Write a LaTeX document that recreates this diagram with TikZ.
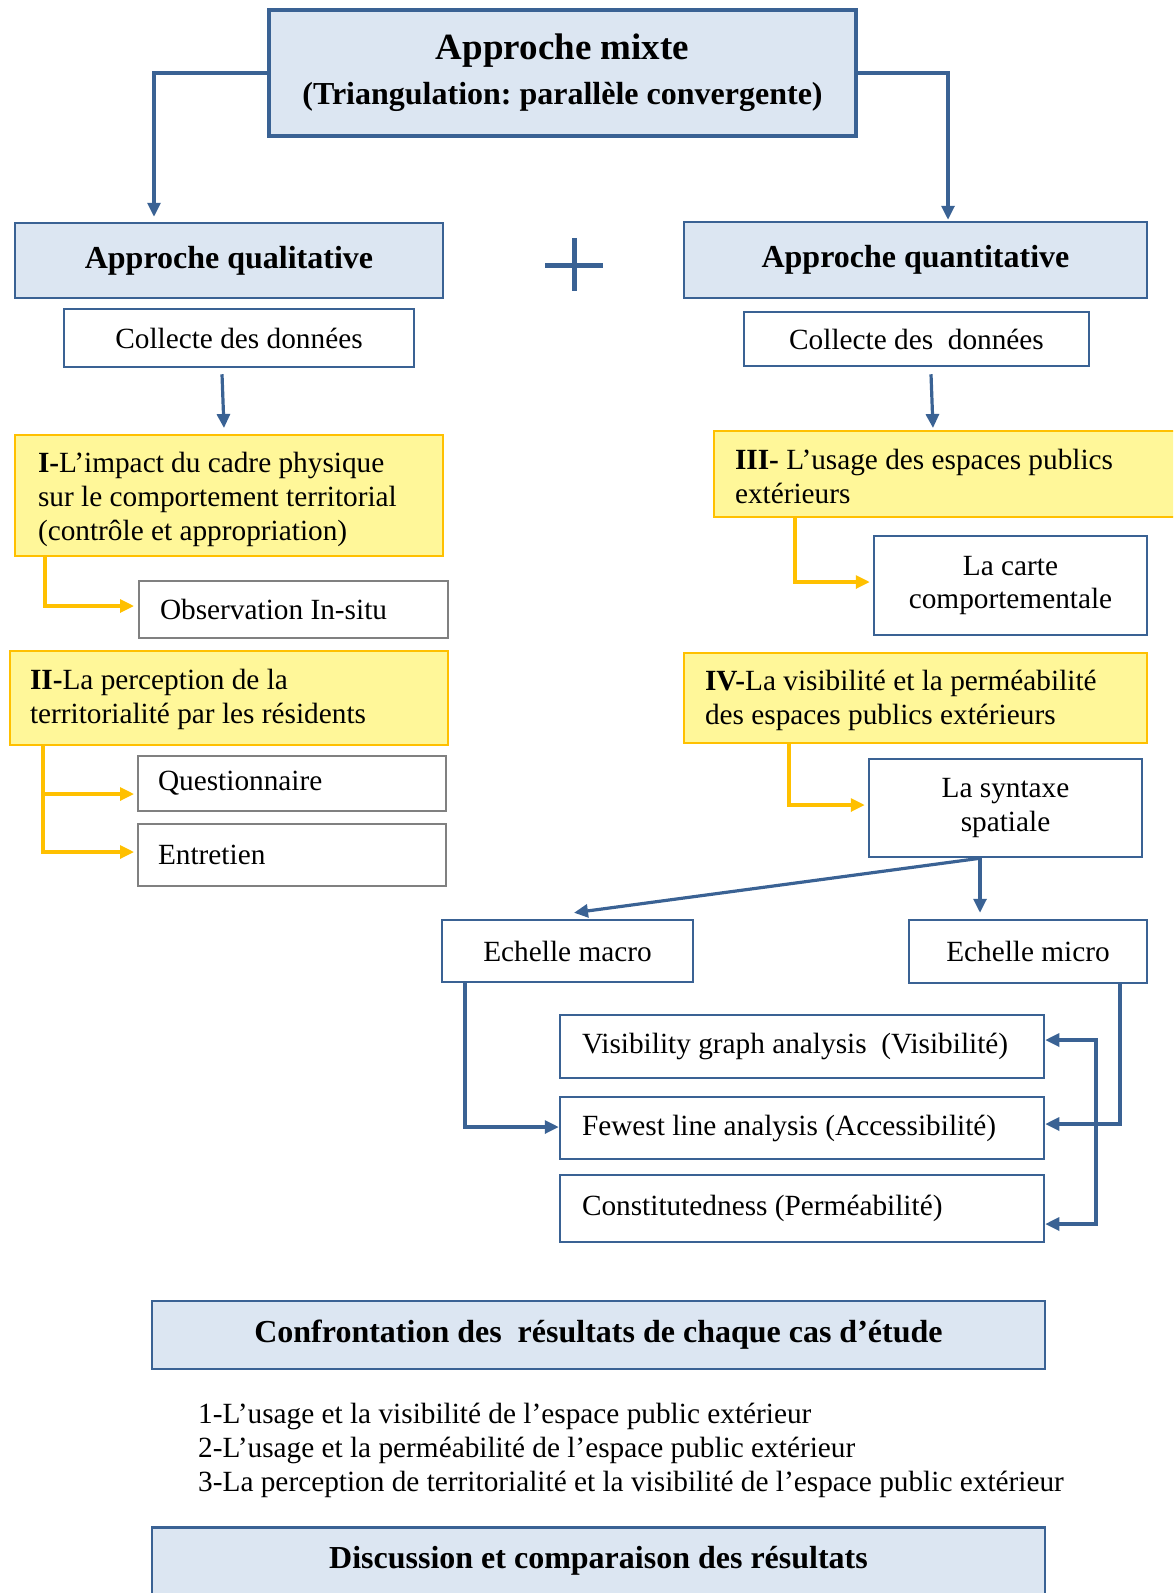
\documentclass[tikz,border=0pt]{standalone}
\usepackage{fontspec}
\setmainfont{Liberation Serif}
\usetikzlibrary{arrows.meta,calc}
\definecolor{bblue}{RGB}{58,98,148}
\definecolor{lblue}{RGB}{220,230,242}
\definecolor{yfill}{RGB}{255,247,153}
\definecolor{ygold}{RGB}{255,192,0}
\definecolor{gbord}{RGB}{128,128,128}
\begin{document}
\frenchspacing
\begin{tikzpicture}[x=1pt,y=-1pt,
  body/.style={font=\fontsize{29.3}{33.8}\selectfont},
  head/.style={font=\fontsize{32}{38}\selectfont\bfseries},
  bluefill/.style={draw=bblue,fill=lblue,line width=2.5pt},
  bluebox/.style={draw=bblue,fill=white,line width=2.5pt},
  graybox/.style={draw=gbord,fill=white,line width=2pt},
  yelbox/.style={draw=ygold,fill=yfill,line width=2pt},
  tipa/.tip={Triangle[length=14pt,width=13pt]},
  barrow/.style={draw=bblue,line width=3.2pt,-tipa},
  yarrow/.style={draw=ygold,line width=3.2pt,-tipa},
]
\path[use as bounding box] (0,0) rectangle (1173,1593);
\clip (0,0) rectangle (1173,1593);

% top
\node[bluefill,line width=4pt,minimum width=587pt,minimum height=126pt,align=center,inner sep=0pt,
      font=\fontsize{32}{45}\selectfont\bfseries] (top) at (562.5,73)
  {{\fontsize{37}{45}\selectfont Approche mixte}\\(Triangulation: parallèle convergente)};

\node[bluefill,head,minimum width=428pt,minimum height=75pt] (qual) at (229,260.5) {Approche qualitative};
\node[bluefill,head,minimum width=463pt,minimum height=76pt] (quant) at (915.5,260) {Approche quantitative};

\draw[bblue,line width=5pt] (545,265) -- (603,265) (574,238) -- (574,291);

\node[bluebox,body,minimum width=350pt,minimum height=58pt] (coll1) at (239,338) {Collecte des données};
\node[bluebox,body,minimum width=345pt,minimum height=54pt] (coll2) at (916.5,339) {Collecte des\ \ données};

% left column
\node[yelbox,body,minimum height=121pt,text width=382pt,inner xsep=23pt,align=flush left] (I) at (229,495.5)
  {\rule{0pt}{28pt}\textbf{I-}L’impact du cadre physique\\sur le comportement territorial\\(contrôle et appropriation)};
\node[graybox,body,minimum height=57pt,text width=267pt,inner xsep=21pt,align=flush left] (obs) at (293.5,609.5)
  {\mbox{Observation In-situ}};
\node[yelbox,body,minimum height=94pt,text width=398pt,inner xsep=20pt,align=flush left] (II) at (229,698)
  {\rule{0pt}{24pt}\textbf{II-}La perception de la\\territorialité par les résidents};
\node[graybox,body,minimum height=55pt,text width=268pt,inner xsep=20pt,align=flush left] (quest) at (292,783.5)
  {\mbox{Questionnaire}};
\node[graybox,body,minimum height=62pt,text width=268pt,inner xsep=20pt,align=flush left] (entr) at (292,855)
  {\mbox{Entretien}};

% right column
\node[yelbox,body,minimum height=86pt,text width=424pt,inner xsep=21pt,align=flush left] (III) at (947,474)
  {\rule{0pt}{25pt}\textbf{III-} L’usage des espaces publics\\extérieurs};
\node[bluebox,body,minimum width=273pt,minimum height=99pt,align=center] (carte) at (1010.5,585.5)
  {La carte\\comportementale};
\node[yelbox,body,minimum height=90pt,text width=421pt,inner xsep=21pt,align=flush left] (IV) at (915.5,698)
  {\rule{0pt}{26pt}\textbf{IV-}La visibilité et la perméabilité\\des espaces publics extérieurs};
\node[bluebox,body,minimum width=273pt,minimum height=98pt,align=center] (syn) at (1005.5,808)
  {La syntaxe\\spatiale};

\node[bluebox,body,minimum width=251pt,minimum height=62pt] (macro) at (567.5,951) {Echelle macro};
\node[bluebox,body,minimum width=238pt,minimum height=63pt] (micro) at (1028,951.5) {Echelle micro};

\node[bluebox,body,minimum height=63pt,text width=440pt,inner xsep=22pt,align=flush left] (vis) at (802,1046.5)
  {\mbox{Visibility graph analysis\ \ (Visibilité)}};
\node[bluebox,body,minimum height=62pt,text width=440pt,inner xsep=22pt,align=flush left] (few) at (802,1128)
  {\mbox{Fewest line analysis (Accessibilité)}};
\node[bluebox,body,minimum height=67pt,text width=440pt,inner xsep=22pt,align=flush left] (cons) at (802,1208.5)
  {\mbox{Constitutedness (Perméabilité)}};

% bottom
\node[bluefill,head,minimum width=893pt,minimum height=68pt] (conf) at (598.5,1335)
  {Confrontation des\ \ résultats de chaque cas d’étude};
\node[body,font=\fontsize{29.3}{34}\selectfont,align=left,anchor=west,inner sep=0pt] (list) at (198,1450)
  {1-L’usage et la visibilité de l’espace public extérieur\\
   2-L’usage et la perméabilité de l’espace public extérieur\\
   3-La perception de territorialité et la visibilité de l’espace public extérieur};
\node[bluefill,head,minimum width=893pt,anchor=north,inner ysep=4pt,text height=37pt,text depth=45pt] (disc) at (598.5,1526)
  {Discussion et comparaison des résultats};

% connectors
\draw[barrow] (top.west) -| ([xshift=-75pt,yshift=5pt]qual.north);
\draw[barrow] (top.east) -| ([xshift=32.5pt,yshift=1pt]quant.north);
\draw[barrow] ([xshift=-17pt,yshift=-6pt]coll1.south) -- ([xshift=-5pt,yshift=6pt]I.north);
\draw[barrow] ([xshift=14.5pt,yshift=-7pt]coll2.south) -- ([xshift=-14pt,yshift=2pt]III.north);

\draw[yarrow] ([xshift=31pt]I.south west) |- ([xshift=-4pt,yshift=3.5pt]obs.west);
\draw[yarrow] ([xshift=34pt]II.south west) |- ([xshift=-3pt,yshift=-10.5pt]quest.west);
\draw[yarrow] ([xshift=34pt]II.south west) |- ([xshift=-3pt,yshift=3pt]entr.west);
\draw[yarrow] ([xshift=82pt]III.south west) |- ([xshift=-3pt,yshift=3.5pt]carte.west);
\draw[yarrow] ([xshift=106pt]IV.south west) |- ([xshift=-3pt,yshift=3pt]syn.west);

\coordinate (split) at ([xshift=-25.5pt]syn.south);
\draw[barrow] (split) -- ([xshift=6.5pt,yshift=6pt]macro.north);
\draw[barrow] (split) -- ([xshift=-48pt,yshift=6pt]micro.north);

\draw[barrow] ([xshift=-102.5pt]macro.south) |- ([yshift=1pt]few.west);
\draw[barrow] ([xshift=92pt]micro.south) |- ([yshift=4pt]few.east);
\coordinate (vmid) at (1096,1130);
\draw[barrow,tipa-tipa] ([yshift=6.5pt]vis.east) -| (vmid) |- ([yshift=-15.5pt]cons.east);
\end{tikzpicture}
\end{document}
